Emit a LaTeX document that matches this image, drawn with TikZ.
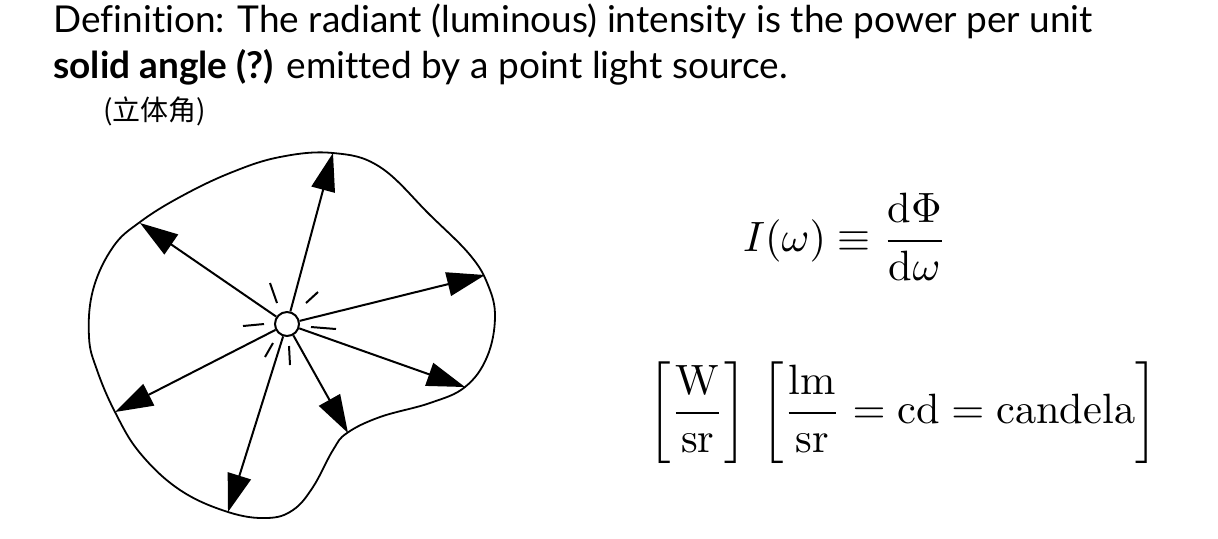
\documentclass[tikz,border=0pt]{standalone}
\usepackage{fontspec}
\usepackage{amsmath}
\setmainfont{Latin Modern Roman}
\newfontfamily\titlefont[Ligatures=NoCommon]{Lato}
\newfontfamily\cjk{Noto Sans CJK SC}
\usetikzlibrary{arrows.meta}
\begin{document}
\begin{tikzpicture}[x=0.5pt,y=-0.5pt,
  ray/.style={line width=1pt,-{Triangle[length=19pt,width=12pt]}},
  tick/.style={line width=1pt},
  txt/.style={inner sep=0pt,anchor=base west},
  eq/.style={inner sep=0pt}]
\path[use as bounding box,fill=white] (0,0) rectangle (1218,538);
% title
\node[txt] (l1) at (53,32) {\titlefont\fontsize{18.5}{22}\selectfont Definition: The radiant (luminous) intensity is the power per unit};
\node[txt] (l2) at (53,78) {\titlefont\fontsize{18.5}{22}\selectfont \textbf{solid angle (?)} emitted by a point light source.};
\node[txt] (l3) at (103,120) {\cjk\fontsize{14}{16}\selectfont (立体角)};
% blob
\draw[line width=0.9pt] plot[smooth cycle, tension=0.65] coordinates {
 (333,153) (380,167) (430,215) (470,255) (488,285) (495,317) (487,357) (465,387)
 (430,403) (380,417) (347,433) (333,450) (313,487) (293,510) (267,518)
 (228,512) (180,490) (140,453) (115,412) (97,370) (89,337) (93,290)
 (113,247) (140,222) (180,197) (230,173) (280,157) };
% source
\node[draw,circle,line width=1pt,minimum size=12pt,inner sep=0pt,fill=white] (src) at (287,324) {};
\coordinate (t1) at (333,153);
\coordinate (t2) at (140,223);
\coordinate (t3) at (485,275);
\coordinate (t4) at (465,387);
\coordinate (t5) at (348,433);
\coordinate (t6) at (228,512);
\coordinate (t7) at (115,412);
\foreach \t in {t1,t2,t3,t4,t5,t6,t7} \draw[ray] (src) -- (\t);
% ticks
\draw[tick] (270,283) -- (277,303);
\draw[tick] (318,292) -- (306,303);
\draw[tick] (243,326) -- (264,324);
\draw[tick] (311,327) -- (336,329);
\draw[tick] (273,343) -- (265,357);
\draw[tick] (289,346) -- (290,365);
% equations
\node[eq] (e1) at (845,237) {\scalebox{2.12}{$\displaystyle I(\omega)\equiv\frac{\mathrm{d}\Phi}{\mathrm{d}\omega}$}};
\node[eq] (e2) at (903,413) {\scalebox{2.12}{$\displaystyle \left[\frac{\mathrm{W}}{\mathrm{sr}}\right]\,\left[\frac{\mathrm{lm}}{\mathrm{sr}}=\mathrm{cd}=\mathrm{candela}\right]$}};
\end{tikzpicture}
\end{document}
